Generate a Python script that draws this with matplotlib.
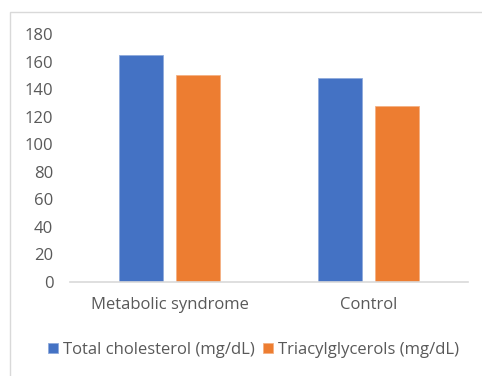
import numpy as np
import matplotlib.pyplot as plt
from matplotlib.patches import Rectangle

# Data
groups = ['Metabolic syndrome', 'Control']
total_chol = [165, 148]
triacyl = [150, 128]
series_names = ['Total cholesterol (mg/dL)', 'Triacylglycerols (mg/dL)']
yticks = list(range(0, 181, 20))

blue = '#4472C4'
orange = '#ED7D31'
grey_text = '#595959'

plt.rcParams['font.family'] = ['Open Sans', 'DejaVu Sans']

fig = plt.figure(figsize=(4.82, 3.76), dpi=100)
ax = fig.add_axes([0.1452, 0.25, 0.8258, 0.6596])

x = np.arange(len(groups))
w = 0.222
off = 0.143
ax.bar(x - off, total_chol, w, color=blue, edgecolor='#8faadc', linewidth=0.6,
       label=series_names[0])
ax.bar(x + off, triacyl, w, color=orange, edgecolor='#f4b183', linewidth=0.6,
       label=series_names[1])

ax.set_xlim(-0.5, 1.5)
ax.set_ylim(0, 180)
ax.set_yticks(yticks)
ax.set_xticks(x)
ax.set_xticklabels(groups)
ax.tick_params(axis='both', length=0, labelsize=12, colors=grey_text)
ax.tick_params(axis='y', pad=12)
ax.tick_params(axis='x', pad=11)

for s in ['top', 'right', 'left']:
    ax.spines[s].set_visible(False)
ax.spines['bottom'].set_color('#d9d9d9')
ax.spines['bottom'].set_linewidth(1.2)

leg = fig.legend(loc='center', bbox_to_anchor=(0.525, 0.07), ncol=2,
                 frameon=False, fontsize=12, handlelength=0.6,
                 handleheight=0.6, handletextpad=0.3, columnspacing=0.5)
for t in leg.get_texts():
    t.set_color(grey_text)

# light chart-area border
fig.patches.append(Rectangle((10 / 482, -0.1), 1.2, 1 - 12 / 376 + 0.1,
                             transform=fig.transFigure, fill=False,
                             edgecolor='#d9d9d9', linewidth=1.0))

fig.savefig('out.png', dpi=100)
